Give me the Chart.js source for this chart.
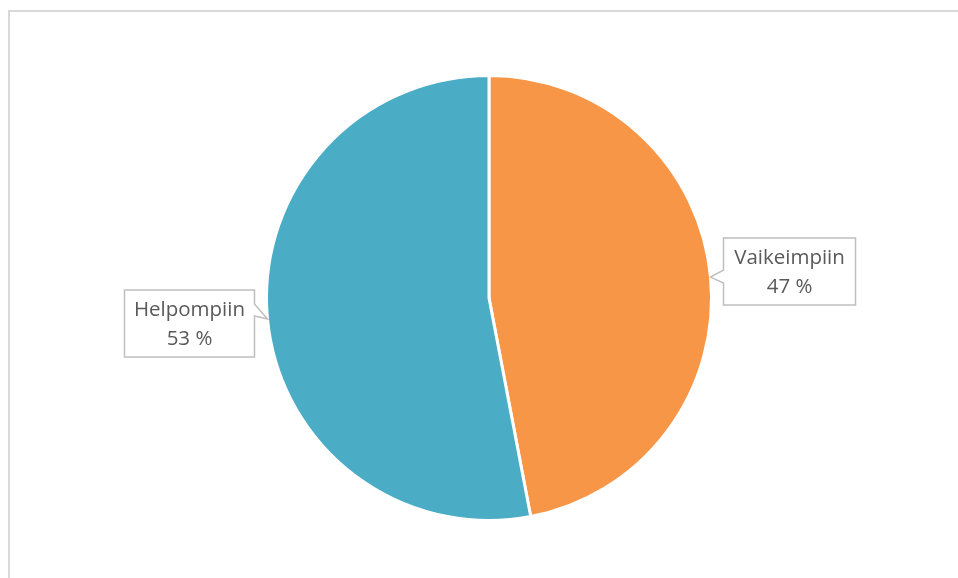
<!DOCTYPE html>
<html>
<head>
<meta charset="utf-8">
<script src="https://cdn.jsdelivr.net/npm/chart.js@4"></script>
<style>
  html, body { margin: 0; padding: 0; background: #fff; overflow: hidden; }
  #frame { position: absolute; left: 8px; top: 10px; width: 970px; height: 590px; border: 2px solid #d9d9d9; }
  #wrap { position: absolute; left: 0; top: 0; width: 958px; height: 578px; }
</style>
</head>
<body>
<div id="frame"></div>
<div id="wrap"><canvas id="pieChart"></canvas></div>
<script>
// ---- data ----
const categories = ['Vaikeimpiin', 'Helpompiin'];
const shares = [47, 53];
const sliceColors = ['#F79646', '#4BACC6'];

// ---- callout labels (Excel style) ----
const calloutLabels = {
    id: 'calloutLabels',
    afterDraw(chart, args, opts) {
        const ctx = chart.ctx;
        const meta = chart.getDatasetMeta(0);
        meta.data.forEach((arc, i) => {
            const p = arc.getProps(['x', 'y', 'startAngle', 'endAngle', 'outerRadius']);
            const mid = (p.startAngle + p.endAngle) / 2;
            const tipX = p.x + Math.cos(mid) * p.outerRadius;
            const tipY = p.y + Math.sin(mid) * p.outerRadius;
            const right = Math.cos(mid) >= 0;
            const w = opts.boxW[i], h = opts.boxH;
            const bx = right ? tipX + opts.gap : tipX - opts.gap - w;
            const by = tipY + opts.dy[i] - h / 2;
            const w1 = opts.wedge[i][0], w2 = opts.wedge[i][1];

            ctx.save();
            ctx.beginPath();
            if (right) {
                ctx.moveTo(bx, by);
                ctx.lineTo(bx + w, by);
                ctx.lineTo(bx + w, by + h);
                ctx.lineTo(bx, by + h);
                ctx.lineTo(bx, tipY + w2);
                ctx.lineTo(tipX, tipY);
                ctx.lineTo(bx, tipY + w1);
                ctx.closePath();
            } else {
                ctx.moveTo(bx, by);
                ctx.lineTo(bx + w, by);
                ctx.lineTo(bx + w, tipY + w1);
                ctx.lineTo(tipX, tipY);
                ctx.lineTo(bx + w, tipY + w2);
                ctx.lineTo(bx + w, by + h);
                ctx.lineTo(bx, by + h);
                ctx.closePath();
            }
            ctx.fillStyle = '#fff';
            ctx.fill();
            ctx.lineWidth = 1.5;
            ctx.strokeStyle = '#bfbfbf';
            ctx.stroke();

            ctx.fillStyle = '#595959';
            ctx.font = '20.5px "Open Sans", sans-serif';
            ctx.textAlign = 'center';
            ctx.textBaseline = 'middle';
            const cx = bx + w / 2;
            ctx.fillText(chart.data.labels[i], cx, by + h / 2 - 13);
            ctx.fillText(chart.data.datasets[0].data[i] + ' %', cx, by + h / 2 + 16);
            ctx.restore();
        });
    }
};

new Chart(document.getElementById('pieChart'), {
    type: 'pie',
    data: {
        labels: categories,
        datasets: [{
            data: shares,
            backgroundColor: sliceColors,
            borderColor: '#ffffff',
            borderWidth: 3
        }]
    },
    options: {
        responsive: true,
        maintainAspectRatio: false,
        animation: false,
        layout: {
            padding: { top: 74, bottom: 56, left: 20, right: 0 }
        },
        plugins: {
            legend: { display: false },
            tooltip: { enabled: false },
            calloutLabels: {
                gap: 13,
                boxW: [132, 130],
                boxH: 67,
                dy: [-5.5, 4.5],
                wedge: [[-7, 6], [-15, -3]]
            }
        }
    },
    plugins: [calloutLabels]
});
</script>
</body>
</html>
